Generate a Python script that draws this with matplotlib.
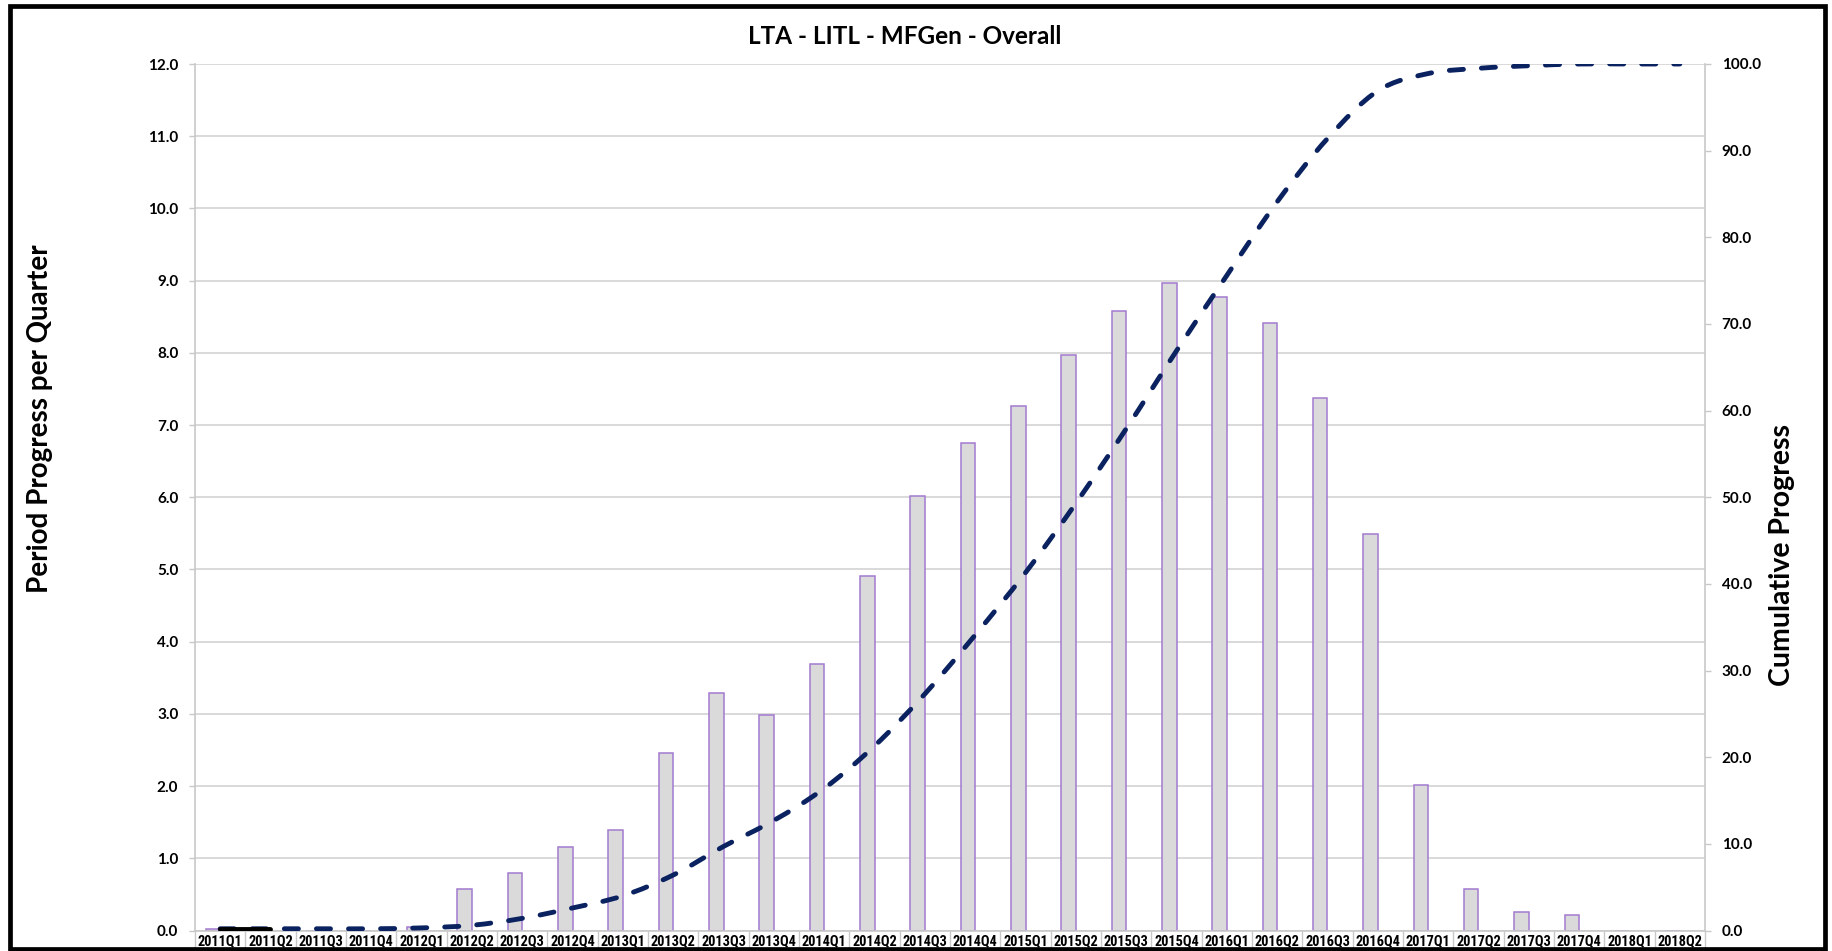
import numpy as np
import matplotlib
matplotlib.use("Agg")
import matplotlib.pyplot as plt
from matplotlib import font_manager
from matplotlib.path import Path
from matplotlib.patches import PathPatch, Rectangle
from matplotlib.ticker import FormatStrFormatter, MultipleLocator

plt.rcParams['font.family'] = ['Lato', 'DejaVu Sans']

# Quarterly periods
quarters = ["2011Q1", "2011Q2", "2011Q3", "2011Q4",
            "2012Q1", "2012Q2", "2012Q3", "2012Q4",
            "2013Q1", "2013Q2", "2013Q3", "2013Q4",
            "2014Q1", "2014Q2", "2014Q3", "2014Q4",
            "2015Q1", "2015Q2", "2015Q3", "2015Q4",
            "2016Q1", "2016Q2", "2016Q3", "2016Q4",
            "2017Q1", "2017Q2", "2017Q3", "2017Q4",
            "2018Q1", "2018Q2"]

# Progress achieved in each quarter (left axis)
period_progress = [0.02, 0.0, 0.0, 0.0,
                   0.05, 0.57, 0.79, 1.15,
                   1.39, 2.46, 3.29, 2.98,
                   3.69, 4.91, 6.02, 6.75,
                   7.27, 7.97, 8.58, 8.97,
                   8.78, 8.42, 7.37, 5.49,
                   2.02, 0.57, 0.26, 0.21,
                   0.0, 0.0]

# Planned cumulative progress (right axis)
cumulative_plan = [0.2, 0.2, 0.2, 0.2,
                   0.3, 0.6, 1.4, 2.6,
                   4.0, 6.4, 9.7, 12.7,
                   16.4, 21.3, 27.3, 34.1,
                   41.3, 49.3, 57.9, 66.9,
                   75.6, 84.1, 91.4, 96.9,
                   98.9, 99.5, 99.8, 100.0,
                   100.0, 100.0]

# Actual cumulative progress recorded so far (right axis)
actual_quarters = ["2011Q1", "2011Q2"]
cumulative_actual = [0.2, 0.2]

GRID = "#d9d9d9"
AXIS = "#c8c8c8"
NAVY = "#0b2260"

# Pick a narrow face for the quarter labels if one is installed
installed = {f.name for f in font_manager.fontManager.ttflist}
narrow = None
for cand in ["Liberation Sans Narrow", "Roboto Condensed", "DejaVu Sans Condensed",
             "Open Sans Condensed", "Noto Sans Condensed"]:
    if cand in installed:
        narrow = cand
        break
if narrow:
    qfont = dict(family=[narrow, "DejaVu Sans"], fontsize=10.4)
else:
    qfont = dict(family=["Lato", "DejaVu Sans"], fontsize=9.7)

W, H = 1833, 951
fig = plt.figure(figsize=(W / 100, H / 100), dpi=100)
ax = fig.add_axes([195 / W, 1 - 930.5 / H, (1705 - 195) / W, (930.5 - 64) / H])

x = np.arange(len(quarters))
# bars sit slightly left of the category centre (clustered-series slot)
ax.bar(x - 0.145, period_progress, width=0.29, color="#dadada",
       edgecolor="#a27ad0", linewidth=1.1, zorder=2)

ax.set_xlim(-0.5, len(quarters) - 0.5)
ax.set_ylim(0, 12)
ax.yaxis.set_major_locator(MultipleLocator(1))
ax.yaxis.set_major_formatter(FormatStrFormatter("%.1f"))
ax.grid(axis="y", color=GRID, linewidth=1.4, zorder=0)
ax.set_axisbelow(True)

for side in ("top", "right"):
    ax.spines[side].set_visible(False)
for side in ("left", "bottom"):
    ax.spines[side].set_color(AXIS)
    ax.spines[side].set_linewidth(1.2)

ax.set_xticks(x)
ax.set_xticklabels(quarters, fontweight="bold", **qfont)
ax.set_xticks(np.arange(-0.5, len(quarters)), minor=True)
ax.tick_params(axis="x", which="major", length=0, pad=3)
ax.tick_params(axis="x", which="minor", length=14, width=1.0,
               color=AXIS, direction="out")
ax.tick_params(axis="y", length=4, width=1.0, color=AXIS,
               labelsize=11, pad=8)
for lbl in ax.get_yticklabels():
    lbl.set_fontweight("bold")

ax.set_ylabel("Period Progress per Quarter", fontsize=20, fontweight="bold")
ax.yaxis.set_label_coords(53 / W, 1 - 418.5 / H, transform=fig.transFigure)

# Secondary axis for cumulative progress
ax2 = ax.twinx()
ax2.set_ylim(0, 100)
ax2.yaxis.set_major_locator(MultipleLocator(10))
ax2.yaxis.set_major_formatter(FormatStrFormatter("%.1f"))
for side in ("top", "left", "bottom"):
    ax2.spines[side].set_visible(False)
ax2.spines["right"].set_color(AXIS)
ax2.spines["right"].set_linewidth(1.2)
ax2.tick_params(axis="y", length=4, width=1.0, color=AXIS,
                labelsize=11, pad=8)
for lbl in ax2.get_yticklabels():
    lbl.set_fontweight("bold")


def smooth_path(xs, ys):
    """Bezier path passing through every point (Catmull-Rom style)."""
    n = len(xs)
    verts = [(xs[0], ys[0])]
    codes = [Path.MOVETO]
    for i in range(n - 1):
        xa, ya = xs[max(i - 1, 0)], ys[max(i - 1, 0)]
        xb, yb = xs[min(i + 2, n - 1)], ys[min(i + 2, n - 1)]
        c1 = (xs[i] + (xs[i + 1] - xa) / 6, ys[i] + (ys[i + 1] - ya) / 6)
        c2 = (xs[i + 1] - (xb - xs[i]) / 6, ys[i + 1] - (yb - ys[i]) / 6)
        verts += [c1, c2, (xs[i + 1], ys[i + 1])]
        codes += [Path.CURVE4] * 3
    return Path(verts, codes)


plan_patch = PathPatch(smooth_path(x.astype(float), np.array(cumulative_plan)),
                       facecolor="none", edgecolor=NAVY, linewidth=3.5,
                       linestyle=(0, (2.9, 3.7)), capstyle="round",
                       joinstyle="round", zorder=3)
ax2.add_patch(plan_patch)

xa = [quarters.index(q) for q in actual_quarters]
ax2.plot(xa, cumulative_actual, color="black", linewidth=3.5,
         solid_capstyle="round", zorder=4)

ax2.set_ylabel("Cumulative Progress", fontsize=20.5, fontweight="bold",
               rotation=90)
ax2.yaxis.set_label_coords(1769.5 / W, 1 - 555 / H, transform=fig.transFigure)

fig.text(905 / W, 1 - 37 / H, "LTA - LITL - MFGen - Overall",
         ha="center", va="center", fontsize=17.5, fontweight="bold")

# Outer frame
fig.patches.append(Rectangle((10.4 / W, 1 - 949 / H),
                             (1825.5 - 10.4) / W, (949 - 6.2) / H,
                             transform=fig.transFigure, fill=False,
                             edgecolor="black", linewidth=3.4, zorder=10))

fig.savefig("out.png", dpi=100, facecolor="white")
